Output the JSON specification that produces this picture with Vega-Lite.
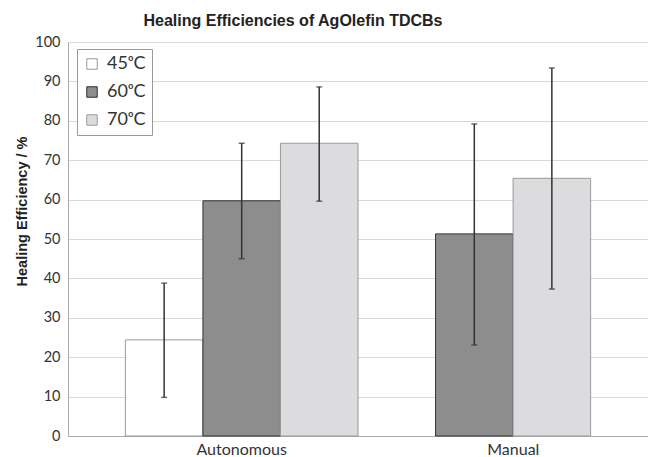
{
  "$schema": "https://vega.github.io/schema/vega-lite/v6.json",
  "autosize": {"type": "none"},
  "padding": {"left": 68, "top": 42, "right": 0, "bottom": 21},
  "width": 580,
  "height": 394,
  "background": "white",
  "title": {
    "text": "Healing Efficiencies of AgOlefin TDCBs",
    "font": "Liberation Sans",
    "fontSize": 16,
    "fontWeight": "bold",
    "color": "#222",
    "anchor": "middle",
    "frame": "group",
    "dx": -65,
    "dy": 22,
    "baseline": "alphabetic",
    "offset": 14
  },
  "data": {
    "values": [
      {"bar": "Autonomous 45ᵒC", "test": "Autonomous", "temp": "45ᵒC", "value": 24.4, "lo": 9.8, "hi": 38.8},
      {"bar": "Autonomous 60ᵒC", "test": "Autonomous", "temp": "60ᵒC", "value": 59.7, "lo": 45.0, "hi": 74.3},
      {"bar": "Autonomous 70ᵒC", "test": "Autonomous", "temp": "70ᵒC", "value": 74.3, "lo": 59.6, "hi": 88.6},
      {"bar": "Manual 60ᵒC", "test": "Manual", "temp": "60ᵒC", "value": 51.3, "lo": 23.1, "hi": 79.2},
      {"bar": "Manual 70ᵒC", "test": "Manual", "temp": "70ᵒC", "value": 65.4, "lo": 37.3, "hi": 93.4}
    ]
  },
  "config": {
    "axisY": {
      "values": [0, 10, 20, 30, 40, 50, 60, 70, 80, 90, 100],
      "labelOverlap": false,
      "titleFont": "Liberation Sans",
      "titleFontSize": 14.5,
      "titleFontWeight": "bold",
      "titleColor": "#222",
      "titleX": -46,
      "titleY": 169,
      "titleAlign": "center",
      "titleBaseline": "middle",
      "titleAngle": -90,
      "labelFont": "Lato",
      "labelFontSize": 14.5,
      "labelColor": "#333",
      "labelPadding": 8,
      "ticks": false,
      "domainColor": "#aaaaaa",
      "gridColor": "#d9d9d9",
      "gridWidth": 1
    }
  },
  "encoding": {
    "x": {
      "field": "bar",
      "type": "nominal",
      "sort": null,
      "scale": {
        "domain": ["Autonomous 45ᵒC", "Autonomous 60ᵒC", "Autonomous 70ᵒC", "gap", "Manual 60ᵒC", "Manual 70ᵒC"],
        "paddingInner": 0,
        "paddingOuter": 0.74
      },
      "axis": {
        "title": null,
        "labelAngle": 0,
        "labelExpr": "datum.value === 'Autonomous 60ᵒC' ? 'Autonomous' : (datum.value === 'Manual 60ᵒC' ? 'Manual' : '')",
        "labelOffset": {"condition": {"test": "datum.value === 'Manual 60ᵒC'", "value": 39}, "value": 0},
        "labelFont": "Lato",
        "labelFontSize": 16,
        "labelColor": "#333",
        "labelPadding": 5,
        "ticks": false,
        "domainColor": "#aaaaaa",
        "domainWidth": 1,
        "grid": false
      }
    }
  },
  "layer": [
    {
      "mark": {"type": "bar", "strokeWidth": 1},
      "encoding": {
        "y": {
          "field": "value",
          "type": "quantitative",
          "scale": {"domain": [0, 100], "nice": false},
          "axis": {"title": "Healing Efficiency / %"}
        },
        "fill": {
          "field": "temp",
          "type": "nominal",
          "scale": {"domain": ["45ᵒC", "60ᵒC", "70ᵒC"], "range": ["#ffffff", "#8d8d8d", "#dcdcde"]},
          "legend": {
            "title": null,
            "orient": "none",
            "legendX": 9,
            "legendY": 7,
            "padding": 6,
            "strokeColor": "#9a9a9a",
            "fillColor": "white",
            "symbolType": "square",
            "symbolSize": 110,
            "symbolStrokeColor": "#555",
            "symbolStrokeWidth": 1,
            "labelFont": "Lato",
            "labelFontSize": 18,
            "labelColor": "#333",
            "rowPadding": 10,
            "labelOffset": 6
          }
        },
        "stroke": {
          "field": "temp",
          "type": "nominal",
          "scale": {"domain": ["45ᵒC", "60ᵒC", "70ᵒC"], "range": ["#9a9a9a", "#333333", "#9a9a9a"]},
          "legend": null
        }
      }
    },
    {
      "mark": {"type": "rule", "color": "#333", "strokeWidth": 1.5},
      "encoding": {
        "y": {"field": "lo", "type": "quantitative"},
        "y2": {"field": "hi"}
      }
    },
    {
      "mark": {"type": "tick", "color": "#333", "size": 6, "thickness": 1.5, "orient": "horizontal"},
      "encoding": {"y": {"field": "lo", "type": "quantitative"}}
    },
    {
      "mark": {"type": "tick", "color": "#333", "size": 6, "thickness": 1.5, "orient": "horizontal"},
      "encoding": {"y": {"field": "hi", "type": "quantitative"}}
    }
  ]
}
